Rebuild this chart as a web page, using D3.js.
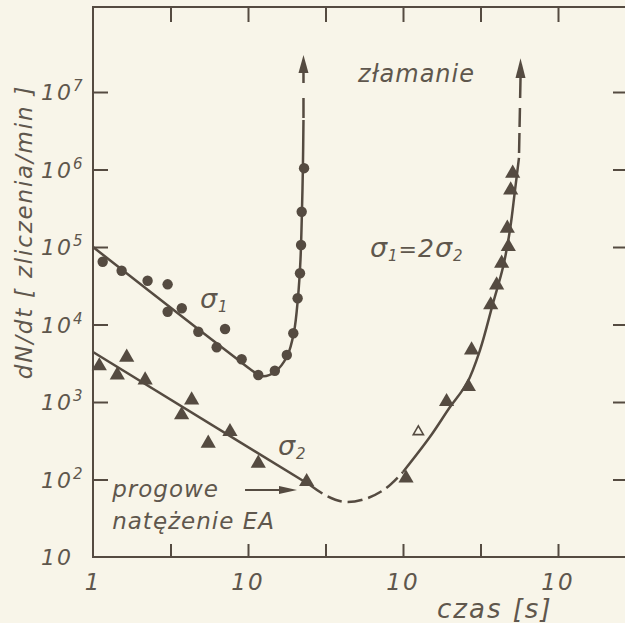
<!DOCTYPE html>
<html>
<head>
<meta charset="utf-8">
<script src="https://cdn.jsdelivr.net/npm/d3@7"></script>
<style>
  html, body { margin: 0; padding: 0; background: #f8f5e9; }
  svg { display: block; }
  text { font-family: "DejaVu Sans", sans-serif; font-style: italic; fill: #5f574d; }
</style>
</head>
<body>
<svg width="625" height="623"></svg>
<script>
//Axis ranges (time in s, rate in counts/min)
const xMax = 2746;
const yMax = 1.25e8;
//Tick positions and labels (the scan only shows "10" on every decade of the time axis)
const xTickValues = [3.162, 10, 31.62, 100, 316.2, 1000];
const xLabelValues = [1, 10, 100, 1000];
const xLabels = ["1", "10", "10", "10"];
const yTickValues = [10, 1e2, 1e3, 1e4, 1e5, 1e6, 1e7];
const yExponents = ["", "2", "3", "4", "5", "6", "7"];

//Measured points, load sigma 1 (circles)
const sigma1Time = [1.155, 1.53, 2.25, 3.03, 3.03, 3.74, 4.78, 7.11, 6.28, 9.10, 11.65, 14.9, 17.8, 19.6, 20.9, 21.65, 22.0, 22.2, 23.0];
const sigma1Rate = [64600, 49400, 36700, 33000, 14600, 16200, 8070, 8750, 5080, 3560, 2230, 2530, 4040, 7700, 21800, 45800, 106000, 285000, 1040000];
//Measured points, load sigma 2 (filled triangles) and the one open triangle
const sigma2Time = [1.098, 1.65, 1.435, 2.17, 4.33, 3.73, 7.65, 5.54, 11.65, 23.9, 104.6, 191, 264, 277, 368, 402, 433, 478, 471, 495, 510];
const sigma2Rate = [2920, 3780, 2230, 1920, 1060, 680, 414, 293, 162, 93.7, 104, 1010, 1575, 4690, 17900, 32300, 61600, 101000, 174000, 543000, 893000];
const sigma2OpenTime = [125.6];
const sigma2OpenRate = [414];

//Hand drawn fit curves
const fit1Time = [1, 4.9, 8.88, 10.3, 12.3, 14.9, 17.9, 19.8, 21.0, 21.8, 22.3, 22.6, 22.8];
const fit1Rate = [100000, 8370, 3350, 2670, 2160, 2440, 3920, 8000, 22000, 68000, 300000, 1050000, 4360000];
const ext1Time = [22.8, 22.8];
const ext1Rate = [4360000, 17600000];
const tip1Rate = 3.0e7;

const fit2aTime = [1, 25.1];
const fit2aRate = [4420, 84.9];
const gap2Time = [25.1, 32.3, 42.2, 56.9, 76.5, 100];
const gap2Rate = [84.9, 61.2, 51.3, 56.0, 75.4, 125];
const fit2bTime = [100, 149, 201, 259, 314, 381, 442, 490, 528, 560];
const fit2bRate = [125, 353, 861, 1760, 4690, 18900, 55200, 166000, 543000, 1410000];
const ext2Time = [560, 573];
const ext2Rate = [1410000, 15200000];
const tip2Rate = 2.72e7;

//Threshold arrow ("progowe natezenie EA")
const thresholdTime = [9.57, 20.7];
const thresholdRate = 73.3;

const ink = "#554b41";
let svg = d3.select("svg"),
    margin = {top: 7, left: 93};

let x = d3.scaleLog().domain([1, xMax]).range([margin.left, 626]),
    y = d3.scaleLog().domain([10, yMax]).range([557, margin.top]);

//Frame: left, top and bottom lines (right side falls outside the picture)
svg.append("path")
    .attr("d", "M" + x(xMax) + "," + y(yMax) + "H" + x(1) + "V" + y(10) + "H" + x(xMax))
    .attr("fill", "none").attr("stroke", ink).attr("stroke-width", 2);

//Inner ticks on all four sides
function styleTicks(g) {
  g.select(".domain").remove();
  g.selectAll("line").attr("stroke", ink).attr("stroke-width", 2);
}
svg.append("g").attr("transform", "translate(" + x(1) + ",0)")
    .call(d3.axisRight(y).tickValues(yTickValues.slice(1)).tickSize(15).tickFormat(""))
    .call(styleTicks);
svg.append("g").attr("transform", "translate(" + x(xMax) + ",0)")
    .call(d3.axisLeft(y).tickValues(yTickValues.slice(1)).tickSize(13).tickFormat(""))
    .call(styleTicks);
svg.append("g").attr("transform", "translate(0," + y(10) + ")")
    .call(d3.axisTop(x).tickValues(xTickValues).tickSize(13).tickFormat(""))
    .call(styleTicks);
svg.append("g").attr("transform", "translate(0," + y(yMax) + ")")
    .call(d3.axisBottom(x).tickValues(xTickValues).tickSize(15).tickFormat(""))
    .call(styleTicks);

//Tick labels
svg.selectAll(".xlabel")
    .data(xLabelValues)
    .enter().append("text")
    .attr("class", "xlabel")
    .attr("x", d => x(d))
    .attr("y", 590)
    .attr("text-anchor", "middle")
    .style("font-size", "23px")
    .style("letter-spacing", "2px")
    .text((d, i) => xLabels[i]);

let ylab = svg.selectAll(".ylabel")
    .data(yTickValues)
    .enter().append("text")
    .attr("class", "ylabel")
    .attr("x", 41)
    .attr("y", d => y(d) + 8)
    .style("font-size", "22px")
    .style("letter-spacing", "2px");
ylab.append("tspan").text("10");
ylab.append("tspan")
    .attr("dy", -9)
    .style("font-size", "15px")
    .text((d, i) => yExponents[i]);

//Axis titles
svg.append("text")
    .attr("transform", "translate(32,232) rotate(-90)")
    .attr("text-anchor", "middle")
    .style("font-size", "23px")
    .style("letter-spacing", "1.8px")
    .text("dN/dt [ zliczenia/min ]");
svg.append("text")
    .attr("x", 437).attr("y", 618)
    .style("font-size", "26px")
    .style("letter-spacing", "2px")
    .text("czas [s]");

//Curves
let line = d3.line()
    .x(d => x(d[0]))
    .y(d => y(d[1]))
    .curve(d3.curveCatmullRom.alpha(0.5));

function drawCurve(times, rates, dash) {
  svg.append("path")
      .attr("d", line(d3.zip(times, rates)))
      .attr("fill", "none")
      .attr("stroke", ink)
      .attr("stroke-width", 2.5)
      .attr("stroke-dasharray", dash);
}
function arrowUp(t, vBase, vTip) {
  let cx = x(t), yb = y(vBase), yt = y(vTip);
  svg.append("path")
      .attr("d", "M" + cx + "," + yt + "L" + (cx - 5) + "," + yb + "L" + (cx + 5) + "," + yb + "Z")
      .attr("fill", ink);
}

drawCurve(fit1Time, fit1Rate, null);
drawCurve(ext1Time, ext1Rate, "0,2,20,15,60");
arrowUp(ext1Time[1], ext1Rate[1], tip1Rate);

drawCurve(fit2aTime, fit2aRate, null);
drawCurve(gap2Time, gap2Rate, "15,6");
drawCurve(fit2bTime, fit2bRate, null);
drawCurve(ext2Time, ext2Rate, "0,5,20,6,19,10,60");
arrowUp(ext2Time[1], ext2Rate[1], tip2Rate);

//Markers
svg.selectAll(".circ")
    .data(d3.zip(sigma1Time, sigma1Rate))
    .enter().append("circle")
    .attr("class", "circ")
    .attr("cx", d => x(d[0]))
    .attr("cy", d => y(d[1]))
    .attr("r", 5.2)
    .attr("fill", ink);

let tri = d3.symbol().type(d3.symbolTriangle);
svg.selectAll(".tri")
    .data(d3.zip(sigma2Time, sigma2Rate))
    .enter().append("path")
    .attr("class", "tri")
    .attr("d", tri.size(100)())
    .attr("transform", d => "translate(" + x(d[0]) + "," + y(d[1]) + ")")
    .attr("fill", ink);
svg.selectAll(".otri")
    .data(d3.zip(sigma2OpenTime, sigma2OpenRate))
    .enter().append("path")
    .attr("class", "otri")
    .attr("d", d3.symbol().type(d3.symbolTriangle).size(45)())
    .attr("transform", d => "translate(" + x(d[0]) + "," + y(d[1]) + ")")
    .attr("fill", "#f8f5e9")
    .attr("stroke", ink)
    .attr("stroke-width", 1.6);

//Threshold arrow
let ty = y(thresholdRate), tx0 = x(thresholdTime[0]), tx1 = x(thresholdTime[1]);
svg.append("line")
    .attr("x1", tx0).attr("x2", tx1 - 14)
    .attr("y1", ty).attr("y2", ty)
    .attr("stroke", ink).attr("stroke-width", 2);
svg.append("path")
    .attr("d", "M" + tx1 + "," + ty + "L" + (tx1 - 18) + "," + (ty - 4) + "L" + (tx1 - 18) + "," + (ty + 4) + "Z")
    .attr("fill", ink);

//Annotations, anchored in data space
const notes = [
  {text: "złamanie", t: 51.3, v: 1.35e7, size: 24},
  {text: "progowe", t: 1.33, v: 59.4, size: 23},
  {text: "natężenie EA", t: 1.33, v: 23, size: 23}
];
svg.selectAll(".note")
    .data(notes)
    .enter().append("text")
    .attr("class", "note")
    .attr("x", d => x(d.t))
    .attr("y", d => y(d.v))
    .style("font-size", d => d.size + "px")
    .style("letter-spacing", "1px")
    .text(d => d.text);

//Sigma labels: [main, subscript] pairs
function sigmaLabel(t, v, parts) {
  let txt = svg.append("text")
      .attr("x", x(t)).attr("y", y(v))
      .style("letter-spacing", "1px");
  parts.forEach(function(p) {
    let s = txt.append("tspan").text(p[0]).style("font-size", p[1] + "px");
    if (p[2]) s.attr("dy", p[2]);
  });
}
sigmaLabel(4.9, 16300, [["σ", 27], ["1", 15, 4]]);
sigmaLabel(15.6, 207, [["σ", 27], ["2", 15, 4]]);
sigmaLabel(61.2, 74300, [["σ", 27], ["1", 15, 4], ["=", 22, -4], ["2", 25], ["σ", 27], ["2", 15, 4]]);
</script>
</body>
</html>
